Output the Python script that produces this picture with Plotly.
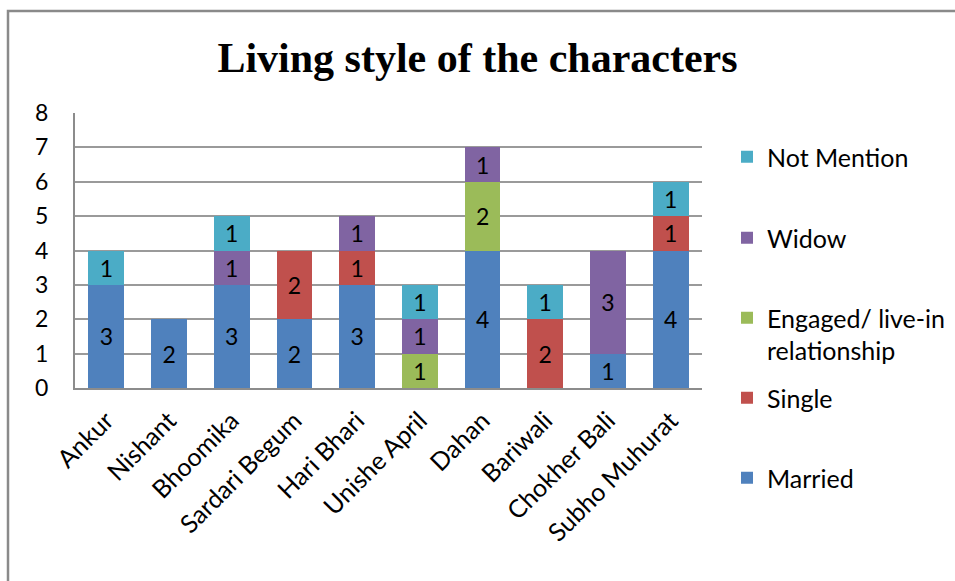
import plotly.graph_objects as go

categories = ["Ankur", "Nishant", "Bhoomika", "Sardari Begum", "Hari Bhari",
              "Unishe April", "Dahan", "Bariwali", "Chokher Bali", "Subho Muhurat"]
married = [3, 2, 3, 2, 3, 0, 4, 0, 1, 4]
single = [0, 0, 0, 2, 1, 0, 0, 2, 0, 1]
engaged = [0, 0, 0, 0, 0, 1, 2, 0, 0, 0]
widow = [0, 0, 1, 0, 1, 1, 1, 0, 3, 0]
not_mention = [1, 0, 1, 0, 0, 1, 0, 1, 0, 1]

series_names = ["Married", "Single", "Engaged/ live-in<br>relationship", "Widow", "Not Mention"]
series_values = [married, single, engaged, widow, not_mention]
series_colors = ["#4F81BD", "#C0504D", "#9BBB59", "#8064A2", "#4BACC6"]

font_fam = "Lato, Open Sans, sans-serif"

# plot area geometry (px)
L, R, T, B = 75, 253, 113, 193
W, H = 955, 581
PH = H - T - B
PW = W - L - R

def py2paper(py):
    return (H - B - py) / PH

def px2paper(px):
    return (px - L) / PW

# legend item centre rows (px)
legend_rows = [478, 398, 334, 238, 157]
legend_ids = ["legend2", "legend3", "legend4", "legend5", "legend6"]

fig = go.Figure()
for i, (name, vals, color) in enumerate(zip(series_names, series_values, series_colors)):
    fig.add_trace(go.Bar(
        x=categories,
        y=[v if v else None for v in vals],
        name=name,
        legend=legend_ids[i],
        marker=dict(color=color, line=dict(width=0)),
        text=[str(v) if v else "" for v in vals],
        textposition="inside",
        insidetextanchor="middle",
        textangle=0,
        textfont=dict(color="black", size=23, family=font_fam),
    ))

legend_common = dict(font=dict(family=font_fam, size=25, color="black"),
                     xanchor="left", yanchor="middle", bgcolor="rgba(0,0,0,0)",
                     x=px2paper(727), valign="top", maxheight=200)
layout_legends = {}
for lid, row in zip(legend_ids, legend_rows):
    layout_legends[lid] = dict(legend_common, y=py2paper(row))

fig.update_layout(
    barmode="stack",
    bargap=0.43,
    width=W, height=H,
    paper_bgcolor="white",
    plot_bgcolor="white",
    showlegend=True,
    margin=dict(l=L, r=R, t=T, b=B, autoexpand=False),
    title=dict(text="<b>Living style of the characters</b>",
               font=dict(family="Liberation Serif, Times New Roman, serif", size=42, color="black"),
               x=0.5, xanchor="center", xref="container",
               y=1 - 57 / H, yanchor="middle", yref="container"),
    uniformtext=dict(minsize=12, mode="show"),
    shapes=[dict(type="rect", xref="paper", yref="paper",
                 x0=px2paper(8), x1=px2paper(975), y0=py2paper(600), y1=py2paper(11),
                 line=dict(color="#8a8a8a", width=2.5))],
    **layout_legends,
)
fig.update_xaxes(
    tickangle=-45,
    tickfont=dict(family=font_fam, size=25, color="black"),
    showline=True, linecolor="#8c8c8c", linewidth=2,
    ticks="", showgrid=False, automargin=False, ticklabelstandoff=6,
)
fig.update_yaxes(
    range=[0, 8], dtick=1,
    tickfont=dict(family=font_fam, size=23, color="black"),
    showline=True, linecolor="#8c8c8c", linewidth=2,
    showgrid=True, gridcolor="#9a9a9a", gridwidth=2,
    ticks="", zeroline=False, automargin=False, ticklabelstandoff=20,
)
fig.write_html("out.html", post_script="document.body.style.margin='0';",
               config={"displayModeBar": False})
